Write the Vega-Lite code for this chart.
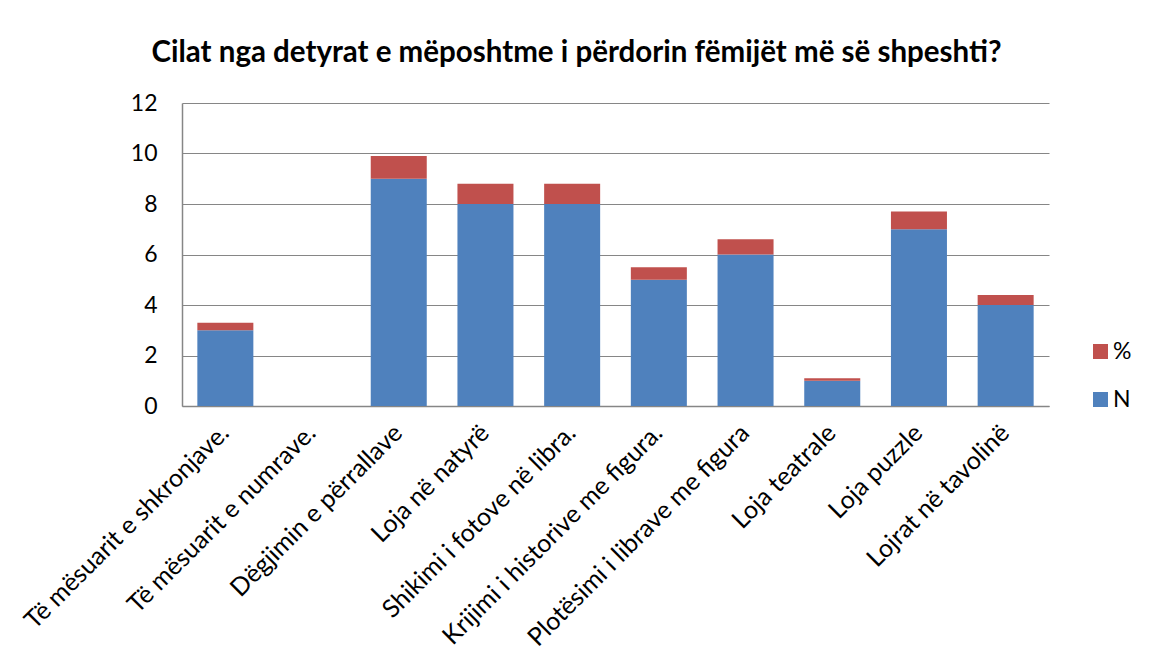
{
  "$schema": "https://vega.github.io/schema/vega-lite/v6.json",
  "width": 867,
  "height": 303,
  "autosize": {"type": "none"},
  "padding": {"left": 182, "top": 103, "right": 100, "bottom": 263},
  "background": "white",
  "title": {
    "text": "Cilat nga detyrat e mëposhtme i përdorin fëmijët më së shpeshti?",
    "font": "Lato",
    "fontSize": 29.5,
    "fontWeight": "bold",
    "color": "#000000",
    "anchor": "middle",
    "dx": -39,
    "offset": 24
  },
  "data": {
    "values": [
      {"kategoria": "Të mësuarit e shkronjave.", "seria": "N", "vlera": 3},
      {"kategoria": "Të mësuarit e shkronjave.", "seria": "%", "vlera": 0.3},
      {"kategoria": "Të mësuarit e numrave.", "seria": "N", "vlera": 0},
      {"kategoria": "Të mësuarit e numrave.", "seria": "%", "vlera": 0},
      {"kategoria": "Dëgjimin e përrallave", "seria": "N", "vlera": 9},
      {"kategoria": "Dëgjimin e përrallave", "seria": "%", "vlera": 0.9},
      {"kategoria": "Loja në natyrë", "seria": "N", "vlera": 8},
      {"kategoria": "Loja në natyrë", "seria": "%", "vlera": 0.8},
      {"kategoria": "Shikimi i fotove në libra.", "seria": "N", "vlera": 8},
      {"kategoria": "Shikimi i fotove në libra.", "seria": "%", "vlera": 0.8},
      {"kategoria": "Krijimi i historive me figura.", "seria": "N", "vlera": 5},
      {"kategoria": "Krijimi i historive me figura.", "seria": "%", "vlera": 0.5},
      {"kategoria": "Plotësimi i librave me figura", "seria": "N", "vlera": 6},
      {"kategoria": "Plotësimi i librave me figura", "seria": "%", "vlera": 0.6},
      {"kategoria": "Loja teatrale", "seria": "N", "vlera": 1},
      {"kategoria": "Loja teatrale", "seria": "%", "vlera": 0.1},
      {"kategoria": "Loja puzzle", "seria": "N", "vlera": 7},
      {"kategoria": "Loja puzzle", "seria": "%", "vlera": 0.7},
      {"kategoria": "Lojrat në tavolinë", "seria": "N", "vlera": 4},
      {"kategoria": "Lojrat në tavolinë", "seria": "%", "vlera": 0.4}
    ]
  },
  "mark": {"type": "bar"},
  "encoding": {
    "x": {
      "field": "kategoria",
      "type": "nominal",
      "sort": null,
      "scale": {"paddingInner": 0.354, "paddingOuter": 0.177},
      "axis": {
        "title": null,
        "labelAngle": -45,
        "labelAlign": "right",
        "labelBaseline": "top",
        "labelPadding": 14,
        "labelOffset": -9,
        "labelFont": "Lato",
        "labelFontSize": 25,
        "labelColor": "#000000",
        "labelLimit": 0,
        "ticks": false,
        "domainColor": "#868686",
        "domainWidth": 1.5,
        "grid": false
      }
    },
    "y": {
      "field": "vlera",
      "type": "quantitative",
      "stack": "zero",
      "scale": {"domain": [0, 12], "nice": false},
      "axis": {
        "title": null,
        "values": [0, 2, 4, 6, 8, 10, 12],
        "labelFont": "Lato",
        "labelFontSize": 23,
        "labelColor": "#000000",
        "labelPadding": 25,
        "ticks": false,
        "domainColor": "#868686",
        "domainWidth": 1.5,
        "gridColor": "#868686",
        "gridWidth": 1.2
      }
    },
    "color": {
      "field": "seria",
      "type": "nominal",
      "scale": {"domain": ["%", "N"], "range": ["#C0504D", "#4F81BD"]},
      "legend": {
        "title": null,
        "orient": "none",
        "legendX": 907,
        "legendY": 237,
        "symbolType": "square",
        "symbolSize": 225,
        "symbolStrokeWidth": 0,
        "labelFont": "Lato",
        "labelFontSize": 23,
        "labelColor": "#000000",
        "rowPadding": 24,
        "labelOffset": 1
      }
    },
    "order": {"field": "seria", "sort": "descending"}
  },
  "config": {
    "view": {"stroke": null}
  }
}
